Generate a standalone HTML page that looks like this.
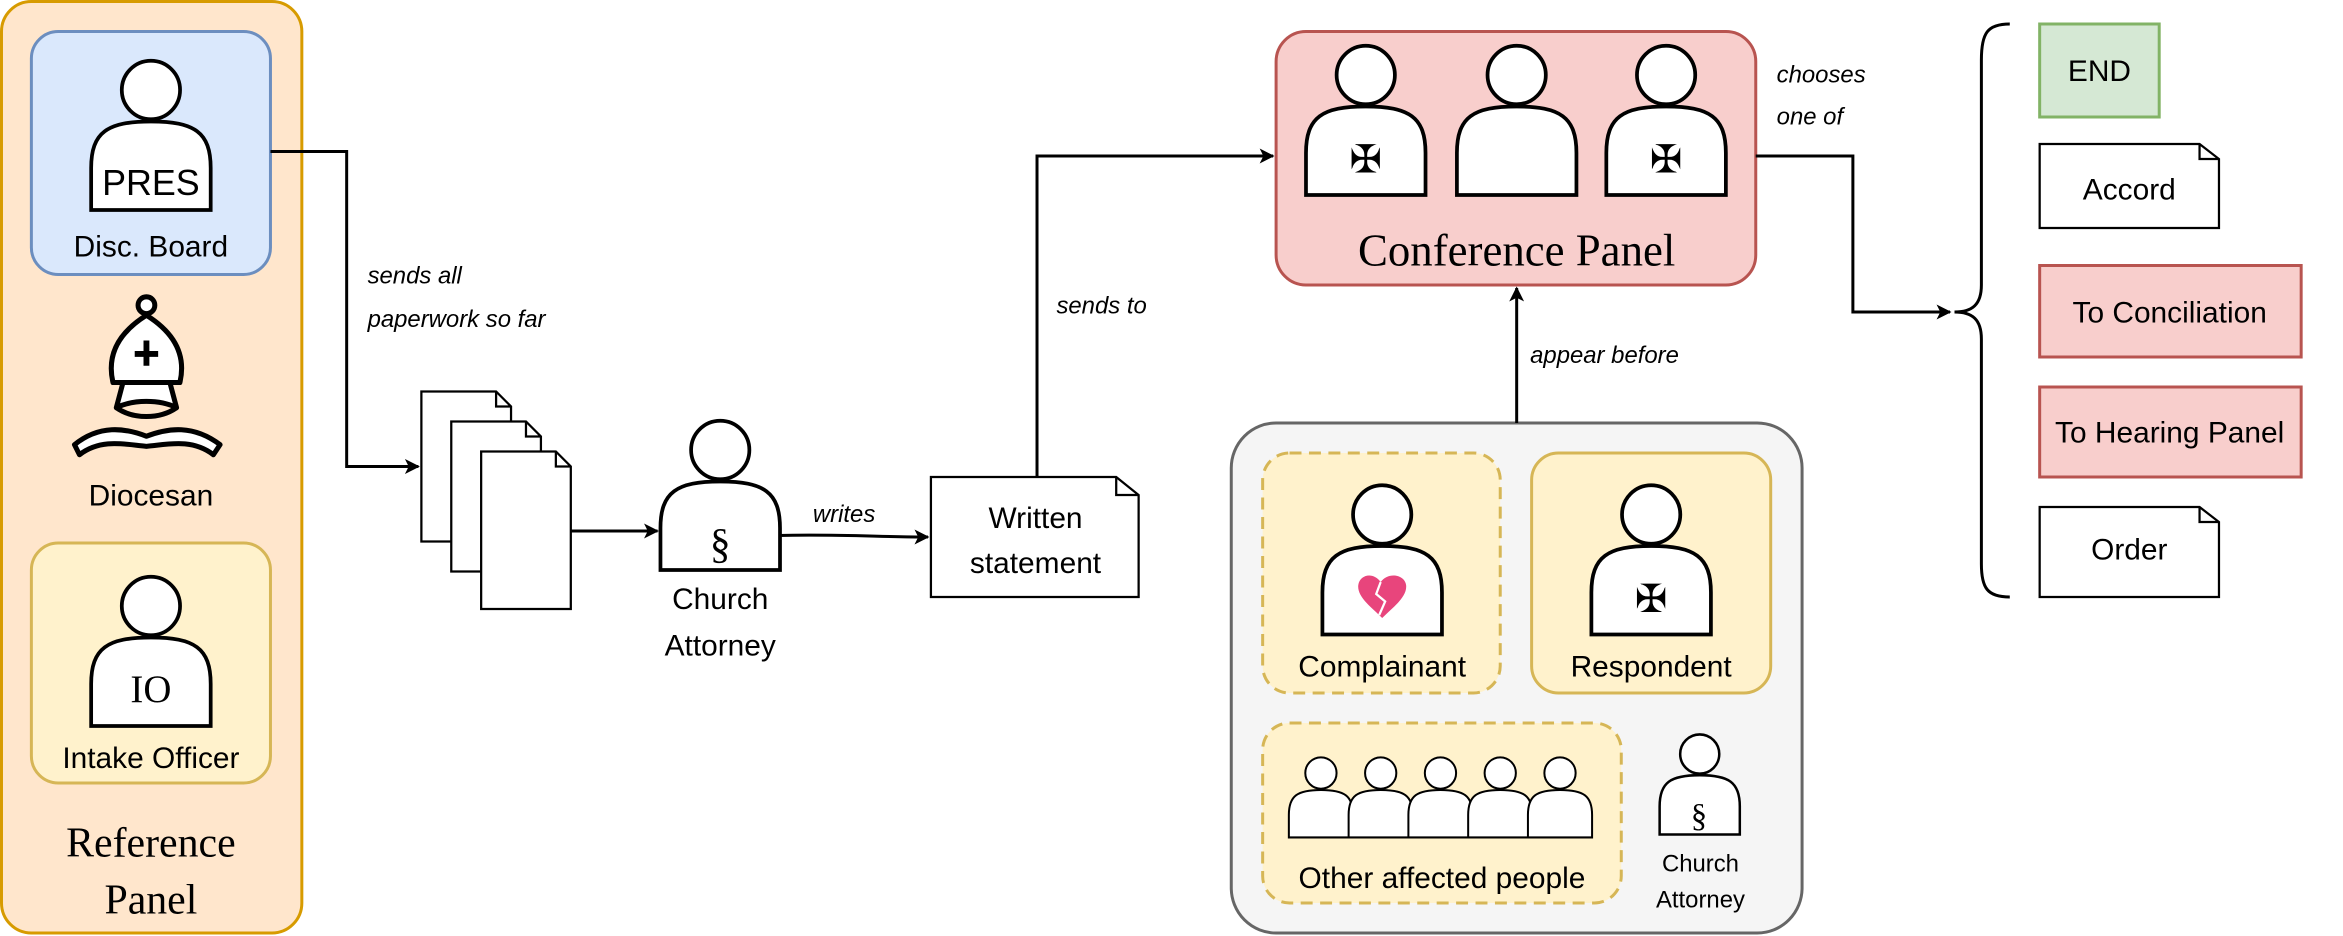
<!DOCTYPE html>
<html><head><meta charset="utf-8"><style>
html,body{margin:0;padding:0;background:#fff}
svg{display:block}
text{font-family:"Liberation Sans","DejaVu Sans",sans-serif;fill:#000}
.s{font-family:"Liberation Serif",serif}
.i{font-style:italic;font-size:16px}
</style></head><body>
<svg width="2343" height="936" viewBox="0 0 1568 624" preserveAspectRatio="none" xmlns="http://www.w3.org/2000/svg">
<defs>
<symbol id="p" viewBox="0 0 82 102" overflow="visible">
<circle cx="41" cy="20" r="19.5" fill="#fff" stroke="#000" stroke-width="2.5"/>
<path d="M1,100 L1,72 C1,48 12,41 41,41 C70,41 81,48 81,72 L81,100 Z" fill="#fff" stroke="#000" stroke-width="2.5"/>
</symbol>
<marker id="a" markerWidth="10" markerHeight="10" refX="9" refY="5" orient="auto" markerUnits="userSpaceOnUse"><path d="M0,0 L10,5 L0,10 L2.5,5 Z" fill="#000"/></marker>
</defs>

<!-- Reference panel -->
<rect x="1" y="1" width="201" height="621" rx="20" fill="#ffe6cc" stroke="#d79b00" stroke-width="2"/>
<rect x="21" y="21" width="160" height="162" rx="18" fill="#dae8fc" stroke="#6c8ebf" stroke-width="2"/>
<use href="#p" x="60" y="40" width="82" height="102"/>
<text x="101" y="130" font-size="24" text-anchor="middle">PRES</text>
<text x="101" y="171" font-size="20" text-anchor="middle">Disc. Board</text>
<!-- bishop -->
<g transform="translate(98,255) scale(1.12) translate(-98,-255)">
<g stroke="#000" stroke-width="3" fill="#fff" stroke-linejoin="round">
<circle cx="98" cy="209" r="5"/>
<path d="M98,215 C82,225 74,238 78,255 L118,255 C122,238 114,225 98,215 Z"/>
<path d="M84,255 L80,270 C90,265 106,265 116,270 L112,255 Z"/>
<path d="M80,270 C90,277 106,277 116,270" fill="none"/>
<path d="M55,292 C70,280 85,282 98,287 C111,282 126,280 142,292 L138,298 C125,288 110,292 98,293 C86,292 71,288 58,298 Z"/>
</g>
<path d="M98,230 V245 M91,238 H105" stroke="#000" stroke-width="3.5"/>
</g>
<text x="101" y="337" font-size="20" text-anchor="middle">Diocesan</text>
<rect x="21" y="362" width="160" height="160" rx="18" fill="#fff2cc" stroke="#d6b656" stroke-width="2"/>
<use href="#p" x="60" y="384" width="82" height="102"/>
<text x="101" y="468" font-size="26" text-anchor="middle" class="s">IO</text>
<text x="101" y="512" font-size="20" text-anchor="middle">Intake Officer</text>
<text x="101" y="571" font-size="28" text-anchor="middle" class="s">Reference</text>
<text x="101" y="609" font-size="28" text-anchor="middle" class="s">Panel</text>

<!-- arrow PRES -> docs -->
<path d="M181,101 H232 V311 H280" fill="none" stroke="#000" stroke-width="2" marker-end="url(#a)"/>
<text x="246" y="189" class="i">sends all</text>
<text x="246" y="218" class="i">paperwork so far</text>

<!-- documents -->
<g fill="#fff" stroke="#000" stroke-width="1.5">
<path d="M282,261 H332 L342,271 V361 H282 Z M332,261 V271 H342"/>
<path d="M302,281 H352 L362,291 V381 H302 Z M352,281 V291 H362"/>
<path d="M322,301 H372 L382,311 V406 H322 Z M372,301 V311 H382"/>
</g>
<path d="M382,354 H440" stroke="#000" stroke-width="2" marker-end="url(#a)"/>

<!-- church attorney -->
<use href="#p" x="441" y="280" width="82" height="102"/>
<text x="482" y="372" font-size="28" text-anchor="middle" class="s">§</text>
<text x="482" y="406" font-size="20" text-anchor="middle">Church</text>
<text x="482" y="437" font-size="20" text-anchor="middle">Attorney</text>
<path d="M521,357 C560,356 590,358 621,358" fill="none" stroke="#000" stroke-width="2" marker-end="url(#a)"/>
<text x="544" y="348" class="i">writes</text>

<!-- written statement -->
<path d="M623,318 H747 L762,330 V398 H623 Z M747,318 V330 H762" fill="#fff" stroke="#000" stroke-width="1.5"/>
<text x="693" y="352" font-size="20" text-anchor="middle">Written</text>
<text x="693" y="382" font-size="20" text-anchor="middle">statement</text>
<path d="M694,318 V104 H852" fill="none" stroke="#000" stroke-width="2" marker-end="url(#a)"/>
<text x="707" y="209" class="i">sends to</text>

<!-- conference panel -->
<rect x="854" y="21" width="321" height="169" rx="20" fill="#f8cecc" stroke="#b85450" stroke-width="2"/>
<use href="#p" x="873" y="30" width="82" height="102"/>
<use href="#p" x="974" y="30" width="82" height="102"/>
<use href="#p" x="1074" y="30" width="82" height="102"/>
<text x="914" y="115" font-size="26" text-anchor="middle">✠</text>
<text x="1115" y="115" font-size="26" text-anchor="middle">✠</text>
<text x="1015" y="177" font-size="30" text-anchor="middle" class="s">Conference Panel</text>

<path d="M1175,104 H1240 V208 H1305" fill="none" stroke="#000" stroke-width="2" marker-end="url(#a)"/>
<text x="1189" y="55" class="i">chooses</text>
<text x="1189" y="83" class="i">one of</text>

<!-- gray container -->
<rect x="824" y="282" width="382" height="340" rx="30" fill="#f5f5f5" stroke="#666" stroke-width="2"/>
<path d="M1015,282 V192" stroke="#000" stroke-width="2" marker-end="url(#a)"/>
<text x="1024" y="242" class="i">appear before</text>
<rect x="845" y="302" width="159" height="160" rx="18" fill="#fff2cc" stroke="#d6b656" stroke-width="2" stroke-dasharray="8,5"/>
<use href="#p" x="884" y="323" width="82" height="102"/>
<path d="M925,412 C918,405 908,398 909,390 C910,383 919,381 924,388 C929,381 940,383 941,390 C942,398 932,405 925,412 Z" fill="#e8457c"/>
<path d="M924,388 L921,396 L927,401 L923,410" fill="none" stroke="#fff" stroke-width="1.5"/>
<text x="925" y="451" font-size="20" text-anchor="middle">Complainant</text>
<rect x="1025" y="302" width="160" height="160" rx="18" fill="#fff2cc" stroke="#d6b656" stroke-width="2"/>
<use href="#p" x="1064" y="323" width="82" height="102"/>
<text x="1105" y="408" font-size="26" text-anchor="middle">✠</text>
<text x="1105" y="451" font-size="20" text-anchor="middle">Respondent</text>
<rect x="845" y="482" width="240" height="120" rx="18" fill="#fff2cc" stroke="#d6b656" stroke-width="2" stroke-dasharray="8,5"/>
<use href="#p" x="862" y="502" width="44" height="60"/>
<use href="#p" x="902" y="502" width="44" height="60"/>
<use href="#p" x="942" y="502" width="44" height="60"/>
<use href="#p" x="982" y="502" width="44" height="60"/>
<use href="#p" x="1022" y="502" width="44" height="60"/>
<text x="965" y="592" font-size="20" text-anchor="middle">Other affected people</text>
<use href="#p" x="1110" y="489" width="55" height="69"/>
<text x="1137" y="551" font-size="22" text-anchor="middle" class="s">§</text>
<text x="1138" y="581" font-size="16" text-anchor="middle">Church</text>
<text x="1138" y="605" font-size="16" text-anchor="middle">Attorney</text>

<!-- brace -->
<path d="M1345,16 C1330,16 1326,22 1326,40 V190 C1326,203 1320,208 1308,208 C1320,208 1326,213 1326,226 V376 C1326,392 1330,398 1345,398" fill="none" stroke="#000" stroke-width="2"/>

<!-- outcomes -->
<rect x="1365" y="16" width="80" height="62" fill="#d5e8d4" stroke="#82b366" stroke-width="2"/>
<text x="1405" y="54" font-size="20" text-anchor="middle">END</text>
<path d="M1365,96 H1472 L1485,106 V152 H1365 Z M1472,96 V106 H1485" fill="#fff" stroke="#000" stroke-width="1.5"/>
<text x="1425" y="133" font-size="20" text-anchor="middle">Accord</text>
<rect x="1365" y="177" width="175" height="61" fill="#f8cecc" stroke="#b85450" stroke-width="2"/>
<text x="1452" y="215" font-size="20" text-anchor="middle">To Conciliation</text>
<rect x="1365" y="258" width="175" height="60" fill="#f8cecc" stroke="#b85450" stroke-width="2"/>
<text x="1452" y="295" font-size="20" text-anchor="middle">To Hearing Panel</text>
<path d="M1365,338 H1472 L1485,348 V398 H1365 Z M1472,338 V348 H1485" fill="#fff" stroke="#000" stroke-width="1.5"/>
<text x="1425" y="373" font-size="20" text-anchor="middle">Order</text>
</svg>
</body></html>
